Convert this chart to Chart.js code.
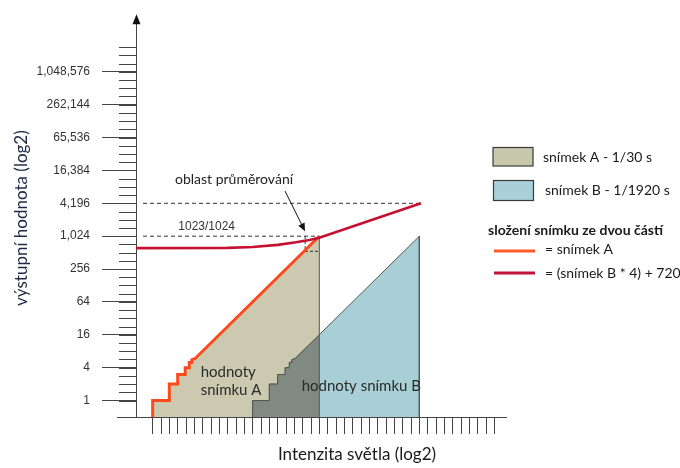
<!DOCTYPE html>
<html>
<head>
<meta charset="utf-8">
<script src="https://cdn.jsdelivr.net/npm/chart.js@4/dist/chart.umd.min.js"></script>
<style>
  html, body { margin: 0; padding: 0; background: #fff; }
  canvas { display: block; }
</style>
</head>
<body>
<canvas id="chart" width="680" height="468"></canvas>
<script>
// Output value axis (log2): labelled levels and their texts
const yTickValues = [1, 4, 16, 64, 256, 1024, 4096, 16384, 65536, 262144, 1048576];
const yTickLabels = ['1', '4', '16', '64', '256', '1,024', '4,196', '16,384', '65,536', '262,144', '1,048,576'];

// Frame A (1/30 s): light intensity in stops vs. output value (staircase, then ramp)
const stopsA  = [1,   1, 2, 2, 2.5, 2.5, 2.95, 2.95, 3.2, 3.2, 3.35, 3.35, 3.55, 11];
const valuesA = [0.5, 1, 1, 2, 2,   3,   3,    4,    4,   5,   5,    5.6,  5.9,  1023];

// Frame B (1/1920 s): same response, shifted six stops to the right
const stopsB  = [7,   7, 8, 8, 8.5, 8.5, 8.95, 8.95, 9.2, 9.2, 9.35, 9.35, 9.55, 17];
const valuesB = [0.5, 1, 1, 2, 2,   3,   3,    4,    4,   5,   5,    5.6,  5.9,  1023];

// Part of frame B that lies under frame A
const stopsAB  = [7,   7, 8, 8, 8.5, 8.5, 8.95, 8.95, 9.2, 9.2, 9.35, 9.35, 9.55, 11];
const valuesAB = [0.5, 1, 1, 2, 2,   3,   3,    4,    4,   5,   5,    5.6,  5.9,  16];

// Merged frame: (B * 4) + 720
const stopsMerged  = [0,   5.5, 7,   8.5, 9.6, 10.4, 11,  17.1];
const valuesMerged = [620, 625, 650, 710, 790, 870,  960, 4096];

// Dashed guide levels and where they end
const guideLevels = [4096, 1024];
const guideEnds   = [17.1, 11];
const guideStart  = 0.42;

// Averaging window marker
const avgWindowStop = 10.15;
const avgWindowLow  = 540;

// Axis range
const yMin = 0.5;
const yMax = Math.pow(2, 23.2);
const xMin = 0;
const xMax = 22.2;

const zip = (xs, ys) => xs.map((x, i) => ({ x: x, y: ys[i] }));

const fillA   = '#cbcab1';
const fillB   = '#a9cfd6';
const fillAB  = '#808a82';
const edge    = '#555555';
const orange  = '#fb4b1c';
const crimson = '#c5112f';

const lineBase = { showLine: true, pointRadius: 0, pointHoverRadius: 0, tension: 0, borderJoinStyle: 'miter', borderCapStyle: 'butt' };

const datasets = [
  Object.assign({}, lineBase, {
    label: 'snímek A - 1/30 s', order: 10,
    data: zip(stopsA, valuesA).concat([{ x: stopsA[stopsA.length - 1], y: yMin }]),
    backgroundColor: fillA, fill: 'start', borderWidth: 0, borderColor: 'rgba(0,0,0,0)'
  }),
  Object.assign({}, lineBase, {
    label: 'snímek B - 1/1920 s', order: 9,
    data: zip(stopsB, valuesB).concat([{ x: stopsB[stopsB.length - 1], y: yMin }]),
    backgroundColor: fillB, fill: 'start', borderWidth: 1, borderColor: edge
  }),
  Object.assign({}, lineBase, {
    label: 'A ∩ B', order: 8,
    data: zip(stopsAB, valuesAB),
    backgroundColor: fillAB, fill: 'start', borderWidth: 1, borderColor: edge
  }),
  Object.assign({}, lineBase, {
    label: 'A edge', order: 7,
    data: [{ x: stopsA[stopsA.length - 1], y: yMin }, { x: stopsA[stopsA.length - 1], y: valuesA[valuesA.length - 1] }],
    fill: false, borderWidth: 1, borderColor: edge
  }),
  Object.assign({}, lineBase, {
    label: 'guide 4096', order: 6,
    data: [{ x: guideStart, y: guideLevels[0] }, { x: guideEnds[0], y: guideLevels[0] }],
    fill: false, borderWidth: 1, borderColor: '#333', borderDash: [4, 3]
  }),
  Object.assign({}, lineBase, {
    label: 'guide 1024', order: 6,
    data: [{ x: guideStart, y: guideLevels[1] }, { x: guideEnds[1], y: guideLevels[1] }],
    fill: false, borderWidth: 1, borderColor: '#333', borderDash: [4, 3]
  }),
  Object.assign({}, lineBase, {
    label: 'averaging window', order: 6,
    data: [{ x: avgWindowStop, y: guideLevels[1] }, { x: avgWindowStop, y: avgWindowLow }, { x: guideEnds[1], y: avgWindowLow }],
    fill: false, borderWidth: 1, borderColor: '#333', borderDash: [3, 2]
  }),
  Object.assign({}, lineBase, {
    label: '= snímek A', order: 2,
    data: zip(stopsA, valuesA),
    fill: false, borderWidth: 3, borderColor: orange
  }),
  Object.assign({}, lineBase, {
    label: '= (snímek B * 4) + 720', order: 1,
    data: zip(stopsMerged, valuesMerged),
    fill: false, borderWidth: 2.6, borderColor: crimson
  })
];

const uiFont = 'Lato, "Open Sans", sans-serif';

// Axis arrow, minor ticks, axis extension, annotations and the key
const decorations = {
  id: 'decorations',
  afterDraw(chart) {
    const ctx = chart.ctx;
    const xs = chart.scales.x, ys = chart.scales.y;
    const px = (stop, log2v) => [xs.getPixelForValue(stop), ys.getPixelForValue(Math.pow(2, log2v))];
    const x0 = xs.getPixelForValue(xMin);
    const yb = ys.getPixelForValue(yMin);
    ctx.save();

    // y axis: minor ticks every half stop
    ctx.strokeStyle = '#444';
    ctx.lineWidth = 1;
    ctx.beginPath();
    for (let k = 0; k <= 43; k++) {
      const y = Math.round(ys.getPixelForValue(Math.pow(2, k / 2))) + 0.5;
      ctx.moveTo(x0 - 17, y);
      ctx.lineTo(x0, y);
    }
    // x axis extends left of the y axis
    ctx.moveTo(x0 - 19, Math.round(yb) + 0.5);
    ctx.lineTo(x0, Math.round(yb) + 0.5);
    ctx.stroke();

    // y axis arrowhead
    const top = chart.chartArea.top;
    ctx.fillStyle = '#111';
    ctx.beginPath();
    ctx.moveTo(x0 + 0.5, top - 5);
    ctx.lineTo(x0 - 3.5, top + 5);
    ctx.lineTo(x0 + 4.5, top + 5);
    ctx.closePath();
    ctx.fill();

    // x axis title
    ctx.fillStyle = '#1a1a1a';
    ctx.font = '17px ' + uiFont;
    ctx.textAlign = 'center';
    ctx.textBaseline = 'middle';
    ctx.fillText('Intenzita světla (log2)', 357, 455);

    // annotations inside the plot
    ctx.fillStyle = '#222';
    ctx.font = '14px ' + uiFont;
    let p = px(5.88, 13.47);
    ctx.fillText('oblast průměrování', p[0], p[1]);

    ctx.font = '12px "Liberation Sans", Arial, sans-serif';
    ctx.fillStyle = '#333';
    p = px(4.24, 10.6);
    ctx.fillText('1023/1024', p[0], p[1]);

    ctx.fillStyle = '#2a2a2a';
    ctx.font = '15px ' + uiFont;
    ctx.textAlign = 'left';
    p = px(3.88, 1.75);
    ctx.fillText('hodnoty', p[0], p[1]);
    p = px(3.88, 0.66);
    ctx.fillText('snímku A', p[0], p[1]);
    p = px(9.94, 0.9);
    ctx.fillText('hodnoty snímku B', p[0], p[1]);

    // pointer to the averaging window
    const a0 = px(8.94, 12.75), a1 = px(10.14, 10.3);
    const ang = Math.atan2(a1[1] - a0[1], a1[0] - a0[0]);
    ctx.strokeStyle = '#111';
    ctx.lineWidth = 1;
    ctx.beginPath();
    ctx.moveTo(a0[0], a0[1]);
    ctx.lineTo(a1[0] - 6 * Math.cos(ang), a1[1] - 6 * Math.sin(ang));
    ctx.stroke();
    ctx.fillStyle = '#111';
    ctx.beginPath();
    ctx.moveTo(a1[0], a1[1]);
    ctx.lineTo(a1[0] - 8 * Math.cos(ang) + 3.5 * Math.sin(ang), a1[1] - 8 * Math.sin(ang) - 3.5 * Math.cos(ang));
    ctx.lineTo(a1[0] - 8 * Math.cos(ang) - 3.5 * Math.sin(ang), a1[1] - 8 * Math.sin(ang) + 3.5 * Math.cos(ang));
    ctx.closePath();
    ctx.fill();

    // key
    ctx.lineWidth = 1.2;
    ctx.strokeStyle = '#3a3a3a';
    ctx.fillStyle = '#c8c8ad';
    ctx.fillRect(493, 147.5, 40, 18.5);
    ctx.strokeRect(493, 147.5, 40, 18.5);
    ctx.fillStyle = '#a9d0d7';
    ctx.fillRect(493.5, 180.5, 40, 20);
    ctx.strokeRect(493.5, 180.5, 40, 20);

    ctx.fillStyle = '#1a1a1a';
    ctx.font = '14px ' + uiFont;
    ctx.textAlign = 'left';
    ctx.textBaseline = 'middle';
    ctx.fillText(datasets[0].label, 543, 157);
    ctx.fillText(datasets[1].label, 545, 190.5);

    ctx.font = 'bold 14px ' + uiFont;
    ctx.fillText('složení snímku ze dvou částí', 488, 230);

    ctx.font = '14px ' + uiFont;
    ctx.lineWidth = 3;
    ctx.strokeStyle = '#ff5a2a';
    ctx.beginPath();
    ctx.moveTo(494, 251);
    ctx.lineTo(535, 251);
    ctx.stroke();
    ctx.fillText(datasets[7].label, 545, 249.5);

    ctx.strokeStyle = '#c0143c';
    ctx.beginPath();
    ctx.moveTo(494, 273);
    ctx.lineTo(535, 273);
    ctx.stroke();
    ctx.fillText(datasets[8].label, 545, 273);

    ctx.restore();
  }
};

const xTickStops = [];
for (let s = 1; s <= 21.5; s += 0.5) xTickStops.push(s);

new Chart(document.getElementById('chart'), {
  type: 'scatter',
  data: { datasets: datasets },
  options: {
    responsive: false,
    devicePixelRatio: 1,
    animation: false,
    events: [],
    layout: { padding: { left: 0, right: 680 - 506, top: 12.7, bottom: 0 } },
    plugins: { legend: { display: false }, tooltip: { enabled: false }, title: { display: false } },
    scales: {
      x: {
        type: 'linear', min: xMin, max: xMax, bounds: 'data', position: 'bottom',
        afterFit(s) { s.height = 51; },
        afterBuildTicks(s) { s.ticks = xTickStops.map(v => ({ value: v })); },
        ticks: { display: false, autoSkip: false },
        grid: { drawOnChartArea: false, drawTicks: true, tickLength: 17, color: '#444', lineWidth: 1 },
        border: { display: true, color: '#444', width: 1 }
      },
      y: {
        type: 'logarithmic', min: yMin, max: yMax, bounds: 'data', position: 'left',
        afterFit(s) { s.width = 136; },
        afterBuildTicks(s) { s.ticks = yTickValues.map(v => ({ value: v })); },
        ticks: {
          autoSkip: false, padding: 12, color: '#333',
          font: { family: '"Liberation Sans", Arial, sans-serif', size: 12 },
          callback: (v, i) => yTickLabels[i]
        },
        grid: { drawOnChartArea: false, drawTicks: true, tickLength: 34, color: '#444', lineWidth: 1 },
        border: { display: true, color: '#444', width: 1 },
        title: {
          display: true, text: 'výstupní hodnota (log2)', color: '#1f2a44',
          font: { family: uiFont, size: 17 }, padding: { top: 11, bottom: 0 }
        }
      }
    }
  },
  plugins: [decorations]
});
</script>
</body>
</html>
